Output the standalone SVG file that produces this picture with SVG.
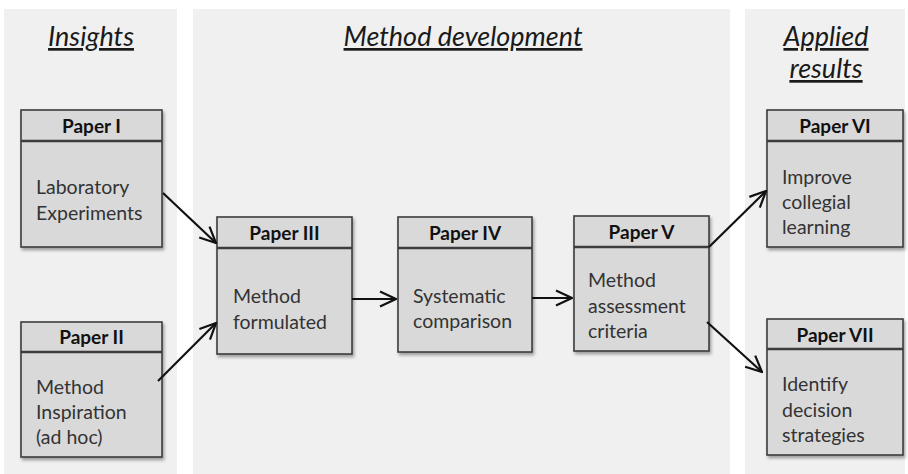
<svg xmlns="http://www.w3.org/2000/svg" width="908" height="474" viewBox="0 0 908 474">
<defs>
<marker id="arr" viewBox="0 0 18 18" refX="17" refY="9" markerWidth="18" markerHeight="18" markerUnits="userSpaceOnUse" orient="auto">
<path d="M1,1.5 L17,9 L1,16.5" fill="none" stroke="#111" stroke-width="2.2"/>
</marker>
<filter id="sh" x="-10%" y="-10%" width="125%" height="125%">
<feDropShadow dx="1.5" dy="2.5" stdDeviation="1.5" flood-color="#000" flood-opacity="0.35"/>
</filter>
</defs>
<style>
.panel{fill:#f0f0f0}
.box{fill:#d9d9d9;stroke:#3c3c3c;stroke-width:1.6}
.sep{stroke:#3c3c3c;stroke-width:2.4}
.hd{font-family:Lato,"Open Sans","Liberation Sans",sans-serif;font-weight:bold;font-size:19px;fill:#111;text-anchor:middle}
.bd{font-family:Lato,"Open Sans","Liberation Sans",sans-serif;font-size:19.5px;fill:#333}
.tt{font-family:Lato,"Open Sans","Liberation Sans",sans-serif;font-style:italic;font-size:27px;fill:#1a1a1a;text-anchor:middle;text-decoration:underline}
.con{stroke:#111;stroke-width:2.2;fill:none;marker-end:url(#arr)}
</style>
<rect width="908" height="474" fill="#ffffff"/>
<rect class="panel" x="4" y="9" width="173" height="465"/>
<rect class="panel" x="193" y="9" width="537" height="465"/>
<rect class="panel" x="745" y="9" width="160" height="465"/>
<text class="tt" x="91" y="46">Insights</text>
<text class="tt" x="463" y="46">Method development</text>
<text class="tt" x="826" y="46">Applied</text>
<text class="tt" x="826" y="78">results</text>

<g id="paper1">
<rect class="box" x="21" y="110" width="141" height="137" filter="url(#sh)"/>
<line class="sep" x1="21" y1="141" x2="162" y2="141"/>
<text class="hd" x="91.5" y="133">Paper I</text>
<text class="bd" x="36" y="194">Laboratory</text>
<text class="bd" x="36" y="220">Experiments</text>
</g>
<g id="paper2">
<rect class="box" x="21" y="322" width="141" height="135" filter="url(#sh)"/>
<line class="sep" x1="21" y1="352" x2="162" y2="352"/>
<text class="hd" x="91.5" y="344">Paper II</text>
<text class="bd" x="36" y="394">Method</text>
<text class="bd" x="36" y="419">Inspiration</text>
<text class="bd" x="36" y="444">(ad hoc)</text>
</g>
<g id="paper3">
<rect class="box" x="217" y="217" width="135" height="137" filter="url(#sh)"/>
<line class="sep" x1="217" y1="248" x2="352" y2="248"/>
<text class="hd" x="284.5" y="240">Paper III</text>
<text class="bd" x="233" y="303">Method</text>
<text class="bd" x="233" y="329">formulated</text>
</g>
<g id="paper4">
<rect class="box" x="398" y="217" width="134" height="135" filter="url(#sh)"/>
<line class="sep" x1="398" y1="248" x2="532" y2="248"/>
<text class="hd" x="465" y="240">Paper IV</text>
<text class="bd" x="413" y="303">Systematic</text>
<text class="bd" x="413" y="328">comparison</text>
</g>
<g id="paper5">
<rect class="box" x="574" y="216" width="135" height="135" filter="url(#sh)"/>
<line class="sep" x1="574" y1="247" x2="709" y2="247"/>
<text class="hd" x="641.5" y="239">Paper V</text>
<text class="bd" x="588" y="287">Method</text>
<text class="bd" x="588" y="313">assessment</text>
<text class="bd" x="588" y="338">criteria</text>
</g>
<g id="paper6">
<rect class="box" x="767" y="110" width="136" height="137" filter="url(#sh)"/>
<line class="sep" x1="767" y1="141" x2="903" y2="141"/>
<text class="hd" x="835" y="133">Paper VI</text>
<text class="bd" x="782" y="184">Improve</text>
<text class="bd" x="782" y="209">collegial</text>
<text class="bd" x="782" y="234">learning</text>
</g>
<g id="paper7">
<rect class="box" x="767" y="319" width="136" height="136" filter="url(#sh)"/>
<line class="sep" x1="767" y1="349" x2="903" y2="349"/>
<text class="hd" x="835" y="342">Paper VII</text>
<text class="bd" x="782" y="391">Identify</text>
<text class="bd" x="782" y="417">decision</text>
<text class="bd" x="782" y="442">strategies</text>
</g>

<g id="connectors">
<line class="con" x1="163" y1="193" x2="216" y2="243"/>
<line class="con" x1="158" y1="381" x2="216" y2="323"/>
<line class="con" x1="352" y1="299" x2="396" y2="299"/>
<line class="con" x1="532" y1="298" x2="572" y2="298"/>
<line class="con" x1="709" y1="247" x2="766" y2="191"/>
<line class="con" x1="707" y1="322" x2="762" y2="372"/>
</g>
</svg>
